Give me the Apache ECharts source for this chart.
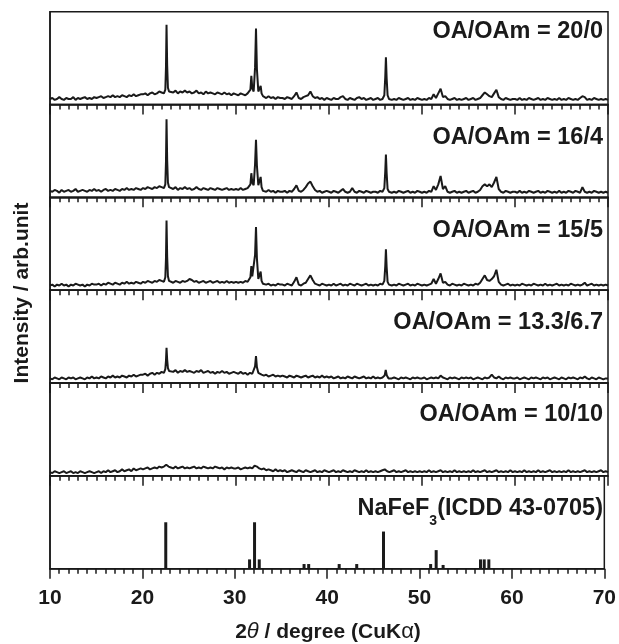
<!DOCTYPE html>
<html>
<head>
<meta charset="utf-8">
<script src="https://cdn.jsdelivr.net/npm/echarts/dist/echarts.min.js"></script>
<style>
html,body{margin:0;padding:0;background:#fff;}
#chart{width:619px;height:644px;}
</style>
</head>
<body>
<div id="chart"></div>
<script>
// ---- Data (intensity in % of each panel height) ----
// Baseline traces sampled every 0.25 deg from 10 to 70 (null = replaced by fine peak points)
const xStart = 10, xStep = 0.25;
const panelLabels = ['OA/OAm = 20/0', 'OA/OAm = 16/4', 'OA/OAm = 15/5', 'OA/OAm = 13.3/6.7', 'OA/OAm = 10/10'];

const base20_0 = [
  6,7,5,6,8,6,5,7,6,6,8,5,7,6,7,8,6,7,6,8,
  7,8,9,7,8,9,8,10,8,9,8,10,9,8,10,9,11,9,10,11,
  11,12,10,12,13,11,12,14,13,12,null,null,14,13,15,12,14,13,15,13,
  14,12,13,15,12,13,11,14,12,13,12,11,13,12,11,13,11,12,10,12,
  11,10,12,11,10,12,null,null,null,null,null,null,8,7,9,7,8,6,8,7,
  7,6,8,7,6,9,13,7,6,8,9,10,14,9,7,8,6,7,5,7,
  6,5,7,6,6,8,9,6,5,7,6,5,7,8,6,7,5,6,7,5,
  6,7,5,6,null,null,7,5,6,5,7,6,5,6,7,5,6,5,7,6,
  5,6,5,7,6,11,7,12,17,8,9,6,5,6,7,5,6,5,6,7,
  5,6,7,5,6,7,10,13,11,9,8,12,16,8,6,5,7,6,5,6,
  6,5,7,5,6,5,7,6,5,6,7,5,6,5,7,6,5,6,5,7,
  5,6,5,7,6,5,6,5,7,9,8,5,6,5,7,6,5,6,5,6,
  5
];
const peaks20_0 = [
  [[22.3,13],[22.4,16],[22.47,40],[22.53,86],[22.6,42],[22.68,18],[22.8,14],[22.88,15]],
  [[31.4,11],[31.55,16],[31.65,31],[31.75,18],[31.9,14],[32.05,40],[32.15,82],[32.25,38],[32.4,14],[32.55,16],[32.65,20],[32.75,12],[32.9,9]],
  [[45.8,6],[45.95,10],[46.05,30],[46.12,51],[46.2,28],[46.3,10],[46.45,6]]
];

const base16_4 = [
  7,6,8,7,5,8,6,7,8,6,7,9,6,7,8,7,6,8,7,9,
  7,8,6,8,9,7,8,7,9,8,7,9,8,10,8,9,8,10,9,8,
  10,9,11,10,9,11,10,12,11,10,null,null,10,9,11,8,10,9,11,9,
  10,8,9,11,9,8,10,9,8,10,9,8,10,9,8,9,10,8,9,8,
  9,8,10,8,9,10,null,null,null,null,null,null,7,6,8,6,7,5,7,6,
  6,7,5,7,6,9,13,7,6,8,11,15,17,12,8,6,7,5,6,7,
  6,5,7,6,5,7,9,6,5,6,10,6,5,7,6,5,7,6,5,6,
  6,5,7,6,null,null,7,5,6,5,7,6,5,6,7,5,6,5,7,6,
  5,6,5,7,6,12,8,14,23,9,12,6,5,6,7,5,6,5,6,7,
  5,6,7,5,6,8,12,14,12,14,11,16,22,9,6,5,7,6,5,6,
  6,5,7,5,6,5,7,6,5,6,7,5,6,5,7,6,5,6,5,7,
  5,6,5,7,6,5,7,6,5,11,6,5,6,5,7,6,5,6,5,6,
  5
];
const peaks16_4 = [
  [[22.3,11],[22.4,14],[22.47,38],[22.53,84],[22.6,40],[22.68,16],[22.8,11],[22.88,10]],
  [[31.4,9],[31.55,14],[31.65,26],[31.75,16],[31.9,13],[32.05,36],[32.15,62],[32.25,34],[32.4,13],[32.55,15],[32.65,22],[32.75,11],[32.9,7]],
  [[45.8,6],[45.95,10],[46.05,28],[46.12,46],[46.2,26],[46.3,9],[46.45,6]]
];

const base15_5 = [
  5,6,4,6,5,7,5,6,4,6,5,7,6,5,6,4,6,5,7,6,
  6,7,5,7,6,8,7,6,8,7,6,8,7,9,7,8,7,9,8,7,
  9,8,10,9,8,10,9,11,10,9,null,null,9,8,10,9,8,10,9,10,
  12,11,9,10,8,9,10,8,9,10,8,9,10,8,9,8,10,8,9,8,
  9,8,9,8,10,9,null,null,null,null,null,null,7,6,7,5,6,5,7,6,
  6,5,7,6,5,9,14,6,5,7,8,12,16,11,7,6,5,7,6,5,
  6,5,7,5,6,7,5,6,5,7,6,5,7,6,5,6,7,5,6,5,
  6,5,7,6,null,null,7,5,6,5,7,6,5,6,7,5,6,5,7,6,
  5,6,5,6,7,12,7,12,18,8,9,6,5,7,6,5,6,5,7,6,
  5,6,5,7,6,8,12,16,11,10,12,15,22,9,6,5,6,7,5,6,
  5,6,5,7,6,5,6,5,7,6,5,6,5,7,5,6,5,6,7,5,
  6,5,6,5,7,6,5,6,5,6,8,5,6,7,5,6,5,6,5,6,
  5
];
const peaks15_5 = [
  [[22.3,10],[22.4,14],[22.47,34],[22.53,75],[22.6,36],[22.68,15],[22.8,10],[22.88,9]],
  [[31.4,9],[31.55,14],[31.65,26],[31.75,15],[31.9,13],[32.05,38],[32.15,68],[32.25,34],[32.4,12],[32.55,14],[32.65,20],[32.75,10],[32.9,7]],
  [[45.8,6],[45.95,10],[46.05,26],[46.12,44],[46.2,25],[46.3,9],[46.45,6]]
];

const base13_3 = [
  5,4,6,5,4,6,5,4,6,5,6,4,5,6,5,4,6,5,7,5,
  6,5,7,6,5,7,6,8,6,7,6,8,7,6,8,7,9,7,8,9,
  9,10,8,10,11,9,11,10,12,11,null,null,13,12,14,11,13,12,14,12,
  13,12,11,13,12,14,11,12,13,11,12,10,12,11,13,11,12,10,11,12,
  11,10,12,10,11,9,11,10,null,null,null,9,8,9,7,8,9,7,8,7,
  8,7,6,8,7,6,8,7,6,7,8,6,7,8,6,7,6,8,6,7,
  6,7,5,6,7,5,6,5,7,6,5,7,6,5,6,7,5,6,5,7,
  5,6,5,6,null,null,6,5,6,5,4,6,5,6,5,4,6,5,6,5,
  5,6,4,5,6,5,6,5,8,6,5,4,6,5,6,5,4,6,5,6,
  5,6,4,5,6,5,4,6,5,6,9,6,5,7,5,4,6,5,6,5,
  5,6,4,5,6,5,4,6,5,6,5,4,6,5,6,4,5,6,5,4,
  6,5,4,6,5,6,5,4,6,5,7,5,4,6,5,4,6,5,4,5,
  5
];
const peaks13_3 = [
  [[22.3,12],[22.4,15],[22.47,24],[22.53,38],[22.6,25],[22.68,16],[22.8,13],[22.88,12]],
  [[31.85,11],[31.95,12],[32.05,18],[32.15,29],[32.25,17],[32.4,11],[32.55,10]],
  [[45.85,6],[45.98,8],[46.1,14],[46.22,8],[46.4,5]]
];

const base10_10 = [
  4,3,5,4,3,4,5,3,4,5,3,4,3,5,4,3,4,5,4,3,
  4,5,3,5,4,6,4,5,6,4,5,7,5,6,7,5,8,6,7,8,
  7,8,9,7,8,9,8,10,9,10,12,10,9,8,10,8,9,10,8,9,
  8,9,10,8,9,8,10,9,8,9,8,10,9,8,9,7,9,8,9,8,
  8,9,7,8,9,8,9,8,11,10,8,7,8,6,7,6,5,7,5,6,
  5,6,4,5,6,5,4,6,5,4,6,5,4,5,6,4,5,4,6,5,
  4,5,6,4,5,4,6,5,4,5,4,6,5,4,5,4,6,4,5,4,
  5,4,5,6,7,5,4,5,6,4,5,4,5,6,4,5,4,5,4,5,
  4,5,4,6,4,5,4,5,6,4,5,4,5,4,6,4,5,4,5,4,
  5,4,6,4,5,4,5,6,4,5,4,5,6,4,5,4,5,4,6,4,
  5,4,5,4,6,4,5,4,5,4,6,4,5,4,5,6,4,5,4,5,
  4,5,4,6,4,5,4,5,4,5,6,4,5,4,5,4,5,6,4,5,
  4
];
const peaks10_10 = [];

// Reference pattern NaFeF3 (ICDD 43-0705)
const refLabel = 'NaFeF3(ICDD 43-0705)';
const stickPos = [22.53, 31.6, 32.14, 32.65, 37.5, 38.0, 41.3, 43.2, 46.1, 51.2, 51.8, 52.55, 56.6, 57.0, 57.5];
const stickInt = [50, 10, 50, 10, 5, 5, 5, 5, 40, 5, 20, 4, 10, 10, 10];

const xTickLabels = ['10', '20', '30', '40', '50', '60', '70'];

// ---- Build ----
function buildTrace(base, groups) {
  const pts = [];
  base.forEach((v, i) => { if (v !== null) pts.push([xStart + i * xStep, v]); });
  groups.forEach(g => g.forEach(p => pts.push(p)));
  pts.sort((a, b) => a[0] - b[0]);
  return pts;
}
const traces = [
  buildTrace(base20_0, peaks20_0),
  buildTrace(base16_4, peaks16_4),
  buildTrace(base15_5, peaks15_5),
  buildTrace(base13_3, peaks13_3),
  buildTrace(base10_10, peaks10_10)
];

const FONT = '"Liberation Sans", Arial, Helvetica, sans-serif';
const INK = '#1a1a1a';
const L = 50, R = 608, TOP = 11.7, PH = 92.83;
const nPanels = 6;
const labelOffset = [20, 33, 33, 32, 31];

const grids = [], xAxes = [], yAxes = [], series = [], graphics = [];
for (let i = 0; i < nPanels; i++) {
  const last = i === nPanels - 1;
  grids.push({ left: L, width: R - L, top: TOP + i * PH, height: PH, show: true, borderColor: INK, borderWidth: 1.5, backgroundColor: 'transparent' });
  xAxes.push({
    type: 'value', gridIndex: i, min: 10, max: 70, interval: 10,
    axisLine: { show: true, onZero: false, lineStyle: { color: INK, width: 1.5 } },
    axisTick: { show: true, inside: false, length: 10, lineStyle: { color: INK, width: 1.5 } },
    minorTick: { show: true, splitNumber: 10, length: 5, lineStyle: { color: INK, width: 1.5 } },
    axisLabel: {
      show: last, margin: 19, color: INK, fontFamily: FONT, fontWeight: 'bold', fontSize: 21,
      formatter: v => xTickLabels[Math.round((v - 10) / 10)]
    },
    splitLine: { show: false }, minorSplitLine: { show: false }
  });
  yAxes.push({
    type: 'value', gridIndex: i, min: 0, max: 100,
    axisLine: { show: true, lineStyle: { color: INK, width: 1.5 } },
    axisTick: { show: false }, axisLabel: { show: false }, splitLine: { show: false }
  });
}
traces.forEach((d, i) => {
  series.push({
    type: 'line', xAxisIndex: i, yAxisIndex: i, data: d, showSymbol: false, symbol: 'none',
    lineStyle: { color: INK, width: 2 }, silent: true, animation: false
  });
  graphics.push({
    type: 'text', x: 603, y: TOP + i * PH + labelOffset[i],
    style: { text: panelLabels[i], fill: INK, font: 'bold 23.5px ' + FONT, textAlign: 'right', align: 'right', textVerticalAlign: 'middle', verticalAlign: 'middle' }
  });
});
series.push({
  type: 'bar', xAxisIndex: 5, yAxisIndex: 5, barWidth: 3, itemStyle: { color: INK },
  data: stickPos.map((x, k) => [x, stickInt[k]]), silent: true, animation: false
});
graphics.push({
  type: 'text', x: 603, y: TOP + 5 * PH + 33,
  style: {
    text: '{m|NaFeF}{s|3}{m|(ICDD 43-0705)}',
    align: 'right', textAlign: 'right', verticalAlign: 'middle', textVerticalAlign: 'middle',
    rich: {
      m: { fontFamily: FONT, fontWeight: 'bold', fontSize: 23.5, fill: INK, color: INK, lineHeight: 38, verticalAlign: 'middle' },
      s: { fontFamily: FONT, fontWeight: 'bold', fontSize: 14, fill: INK, color: INK, lineHeight: 38, verticalAlign: 'bottom' }
    }
  }
});
// axis titles
graphics.push({
  type: 'text', x: 328, y: 632,
  style: {
    text: '{b|2}{i|θ}{b| / degree (CuK}{a|α}{b|)}',
    align: 'center', textAlign: 'center', verticalAlign: 'middle', textVerticalAlign: 'middle',
    rich: {
      b: { fontFamily: FONT, fontWeight: 'bold', fontSize: 21, fill: INK, color: INK },
      i: { fontFamily: FONT, fontStyle: 'italic', fontWeight: 'normal', fontSize: 22, fill: INK, color: INK },
      a: { fontFamily: FONT, fontWeight: 'normal', fontSize: 22, fill: INK, color: INK }
    }
  }
});
graphics.push({
  type: 'text', x: 22, y: 293, rotation: Math.PI / 2,
  style: { text: 'Intensity / arb.unit', fill: INK, font: 'bold 21px ' + FONT, align: 'center', textAlign: 'center', verticalAlign: 'middle', textVerticalAlign: 'middle' }
});

const chart = echarts.init(document.getElementById('chart'), null, { renderer: 'canvas' });
chart.setOption({
  animation: false,
  backgroundColor: '#fff',
  grid: grids, xAxis: xAxes, yAxis: yAxes, series: series, graphic: graphics
});
</script>
</body>
</html>
